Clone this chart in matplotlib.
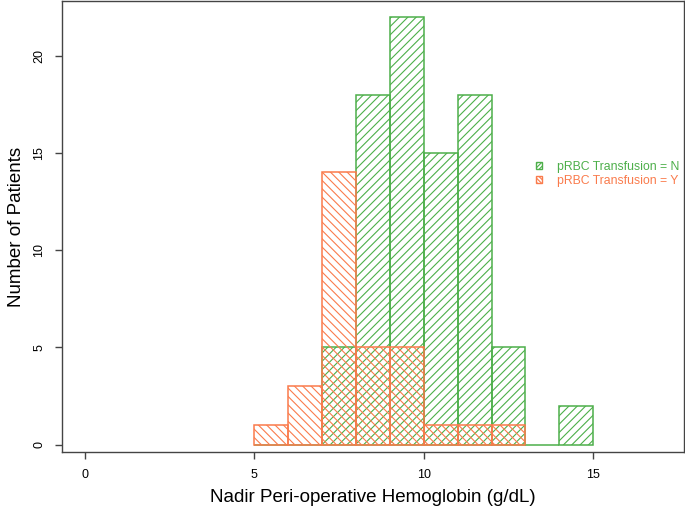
import numpy as np
import matplotlib
matplotlib.use('Agg')
import matplotlib.pyplot as plt
from matplotlib.patches import Patch

plt.rcParams['font.family'] = ['Liberation Sans', 'DejaVu Sans']
plt.rcParams['hatch.linewidth'] = 0.8

# --- data: histogram bins (g/dL) and counts per group ---
bin_left = [5, 6, 7, 8, 9, 10, 11, 12, 13, 14]
count_n = [0, 0, 5, 18, 22, 15, 18, 5, 0, 2]   # pRBC Transfusion = N
count_y = [1, 3, 14, 5, 5, 1, 1, 1, 0, 0]      # pRBC Transfusion = Y
x_ticks = [0, 5, 10, 15]
y_ticks = [0, 5, 10, 15, 20]
labels = ['pRBC Transfusion = N', 'pRBC Transfusion = Y']

GREEN = '#4DAF4A'
ORANGE = '#FA7B4C'

fig = plt.figure(figsize=(6.85, 5.14), dpi=100)
ax = fig.add_axes([0.0905, 0.1206, 0.908, 0.877])

# green group (empty bin 13-14 just shows as a flat line)
ax.bar(bin_left, count_n, width=1, align='edge', fill=False,
       edgecolor=GREEN, hatch='////', linewidth=1.1)
# orange group drawn on top
yl = [b for b, c in zip(bin_left, count_y) if c > 0]
yc = [c for c in count_y if c > 0]
ax.bar(yl, yc, width=1, align='edge', fill=False,
       edgecolor=ORANGE, hatch='\\\\\\\\', linewidth=1.1)

ax.set_xlim(-0.68, 17.68)
ax.set_ylim(-0.375, 22.8)
ax.set_xticks(x_ticks)
ax.set_yticks(y_ticks)
ax.tick_params(axis='both', direction='out', length=5, width=1,
               color='#444444', labelsize=9, pad=7)
for lab in ax.get_yticklabels():
    lab.set_rotation(90)
    lab.set_va('center')
for sp in ax.spines.values():
    sp.set_color('#444444')
    sp.set_linewidth(1)

ax.set_xlabel('Nadir Peri-operative Hemoglobin (g/dL)', fontsize=13.5, labelpad=6)
ax.set_ylabel('Number of Patients', fontsize=13.5, labelpad=6)

handles = [Patch(facecolor='none', edgecolor=GREEN, hatch='////////', linewidth=1),
           Patch(facecolor='none', edgecolor=ORANGE, hatch='\\\\\\\\\\\\\\\\', linewidth=1)]
ax.legend(handles, labels, loc='center left', bbox_to_anchor=(0.762, 0.617),
          frameon=False, fontsize=8.8, handlelength=0.5, handleheight=0.5,
          handletextpad=1.2, labelspacing=0.2, borderpad=0, borderaxespad=0,
          labelcolor=[GREEN, ORANGE])

fig.savefig('out.png', dpi=100)
